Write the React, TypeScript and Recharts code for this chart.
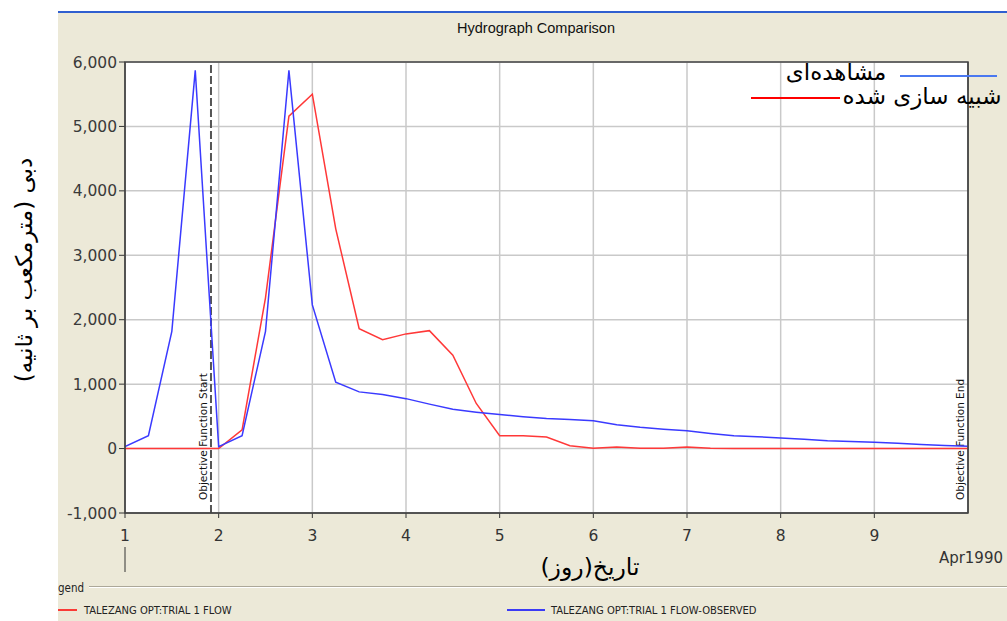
import React from 'react';
import { LineChart, Line, XAxis, YAxis, CartesianGrid, ReferenceLine } from 'recharts';

const timeDays = [1, 1.25, 1.5, 1.75, 2, 2.25, 2.5, 2.75, 3, 3.25, 3.5, 3.75, 4, 4.25, 4.5, 4.75, 5, 5.25, 5.5, 5.75, 6, 6.25, 6.5, 6.75, 7, 7.25, 7.5, 7.75, 8, 8.25, 8.5, 8.75, 9, 9.25, 9.5, 9.75, 10];
const observedFlow = [30, 200, 1820, 5870, 30, 200, 1820, 5870, 2230, 1030, 880, 840, 775, 690, 610, 565, 528, 495, 466, 450, 432, 370, 330, 300, 275, 235, 200, 183, 166, 145, 120, 108, 98, 82, 65, 47, 36];
const simulatedFlow = [0, 0, 0, 0, 0, 290, 2340, 5160, 5500, 3410, 1860, 1690, 1780, 1830, 1450, 700, 200, 200, 180, 45, 5, 25, 5, 5, 25, 5, 0, 0, 0, 0, 0, 0, 0, 0, 0, 0, 0];
const xTicks = [1, 2, 3, 4, 5, 6, 7, 8, 9];
const yTicks = [-1000, 0, 1000, 2000, 3000, 4000, 5000, 6000];
const objectiveStart = 1.918;
const objectiveEnd = 10;

const chartTitle = 'Hydrograph Comparison';
const yLabel = 'دبی (مترمکعب بر ثانیه)';
const xLabel = 'تاریخ(روز)';
const dateLabel = 'Apr1990';
const observedName = 'مشاهده‌ای';
const simulatedName = 'شبیه سازی شده';
const legendSim = 'TALEZANG OPT:TRIAL 1 FLOW';
const legendObs = 'TALEZANG OPT:TRIAL 1 FLOW-OBSERVED';

const data = timeDays.map((d, i) => ({ d, obs: observedFlow[i], sim: simulatedFlow[i] }));

const FONT = 'DejaVu Sans';
const RED = '#ff3838';
const BLUE = '#3a3aff';

const fmt = (v: number) => v.toLocaleString('en-US');

const VLabel = (text: string, dx: number) => (props: any) => {
  const vb = props.viewBox || {};
  const x = (vb.x ?? 0) + dx;
  const y = (vb.y ?? 0) + (vb.height ?? 0) - 13;
  return (
    <text
      transform={`translate(${x},${y}) rotate(-90)`}
      fontFamily={FONT}
      fontSize={10.5}
      fill="#111"
      textAnchor="start"
    >
      {text}
    </text>
  );
};

export default function App() {
  return (
    <div style={{ position: 'absolute', left: 0, top: 0, width: 1007, height: 621, background: '#fff', overflow: 'hidden' }}>
      <div style={{ position: 'absolute', left: 58, top: 13, width: 949, height: 608, background: '#ECE9D8' }} />
      <div style={{ position: 'absolute', left: 58, top: 11, width: 949, height: 2, background: '#2f5fd0' }} />
      <div style={{ position: 'absolute', left: 0, top: 0 }}>
        <LineChart width={1007} height={621} data={data} margin={{ top: 62, right: 39, bottom: 78, left: 0 }}>
          <CartesianGrid stroke="#c9c9c9" strokeWidth={1.5} fill="#ffffff" horizontalValues={yTicks} verticalValues={xTicks} />
          <XAxis
            type="number"
            dataKey="d"
            domain={[1, 10]}
            ticks={xTicks}
            allowDataOverflow
            height={30}
            tickSize={5}
            tickMargin={12}
            stroke="#333"
            tick={{ fontSize: 15.5, fill: '#333', fontFamily: FONT }}
          />
          <YAxis
            type="number"
            domain={[-1000, 6000]}
            ticks={yTicks}
            allowDataOverflow
            width={125}
            tickSize={6}
            tickMargin={2}
            stroke="#333"
            tickFormatter={fmt}
            tick={{ fontSize: 15.5, fill: '#3a3a3a', fontFamily: FONT }}
          />
          <ReferenceLine
            x={objectiveStart}
            stroke="#555"
            strokeWidth={2}
            strokeDasharray="8 3"
            label={VLabel('Objective Function Start', -4)}
          />
          <ReferenceLine
            x={objectiveEnd}
            stroke="#555"
            strokeWidth={1.5}
            label={VLabel('Objective Function End', -4)}
          />
          <Line type="linear" dataKey="sim" stroke={RED} strokeWidth={1.5} dot={false} isAnimationActive={false} />
          <Line type="linear" dataKey="obs" stroke={BLUE} strokeWidth={1.5} dot={false} isAnimationActive={false} />
        </LineChart>
      </div>
      <svg width={1007} height={621} style={{ position: 'absolute', left: 0, top: 0, pointerEvents: 'none' }}>
        <rect x={125} y={62} width={843} height={451} fill="none" stroke="#444" strokeWidth={1.5} />
        <text x={536} y={33} textAnchor="middle" fontFamily="Liberation Sans" fontSize={14.5} fill="#111">{chartTitle}</text>
        <text
          transform="translate(32,270) rotate(-90)"
          textAnchor="middle"
          direction="rtl"
          fontFamily={FONT}
          fontSize={23}
          fill="#000"
        >
          {yLabel}
        </text>
        <text x={590} y={575} textAnchor="middle" direction="rtl" fontFamily={FONT} fontSize={23.5} fill="#000">{xLabel}</text>
        <text x={1003} y={563} textAnchor="end" fontFamily={FONT} fontSize={15} fill="#333">{dateLabel}</text>
        <line x1={125} y1={547} x2={125} y2={572} stroke="#333" strokeWidth={1} />
        <line x1={900} y1={76} x2={997} y2={76} stroke="#4a78f0" strokeWidth={2} />
        <text x={836} y={80} textAnchor="middle" direction="rtl" fontFamily={FONT} fontSize={23} fill="#000">{observedName}</text>
        <line x1={751} y1={98} x2={840} y2={98} stroke="#ff0000" strokeWidth={2} />
        <text x={922} y={104} textAnchor="middle" direction="rtl" fontFamily={FONT} fontSize={23} fill="#000">{simulatedName}</text>
        <text x={58} y={592} fontFamily="DejaVu Sans Condensed" fontSize={11.5} fill="#222">gend</text>
        <line x1={89} y1={586.5} x2={1007} y2={586.5} stroke="#aca899" strokeWidth={1} />
        <line x1={89} y1={587.5} x2={1007} y2={587.5} stroke="#ffffff" strokeWidth={1} />
        <line x1={58} y1={610} x2={77} y2={610} stroke="#ff0000" strokeWidth={1.5} />
        <text x={84} y={613.5} fontFamily="DejaVu Sans Condensed" fontSize={11.1} fill="#222">{legendSim}</text>
        <line x1={507} y1={610} x2={545} y2={610} stroke="#0000ff" strokeWidth={1.5} />
        <text x={551} y={613.5} fontFamily="DejaVu Sans Condensed" fontSize={11.1} fill="#222">{legendObs}</text>
      </svg>
    </div>
  );
}
